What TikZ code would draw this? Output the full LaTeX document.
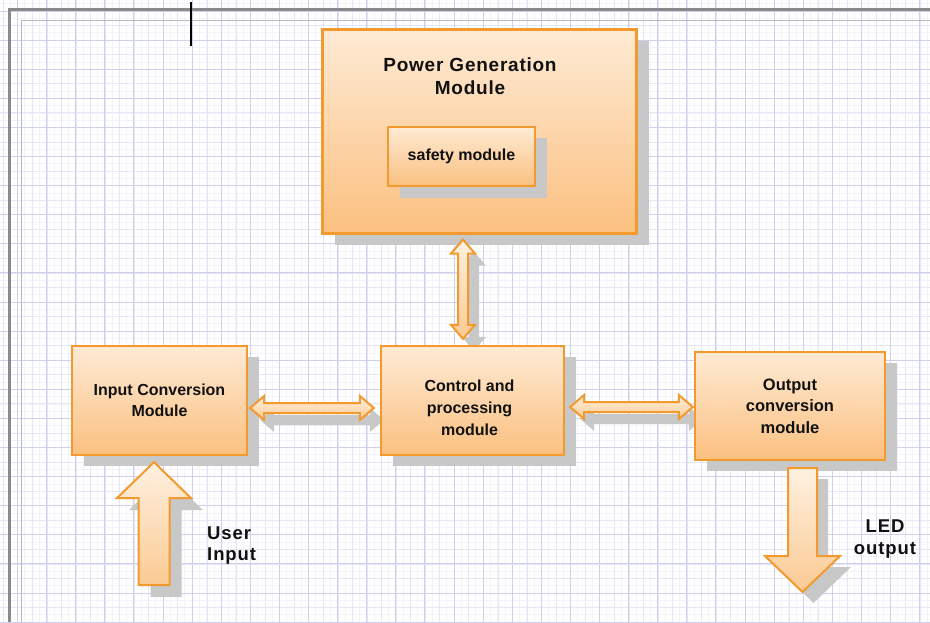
\documentclass[tikz,border=0pt]{standalone}
\usepackage{fontspec}
\setmainfont{Liberation Sans}
\usetikzlibrary{calc,shadows}
\definecolor{bord}{HTML}{F29A2E}
\definecolor{boxtop}{HTML}{FEEAD4}
\definecolor{boxbot}{HTML}{FBC080}
\definecolor{arrtop}{HTML}{FEF1E0}
\definecolor{arrbot}{HTML}{FBCA93}
\definecolor{shadowgray}{HTML}{C8C8C8}
\definecolor{gridmin}{HTML}{F3F3FB}
\definecolor{gridmid}{HTML}{E6E6F6}
\definecolor{gridmaj}{HTML}{CFCFEE}
\definecolor{framegray}{HTML}{8A8A8A}
\definecolor{txtcol}{HTML}{111111}
\pgfdeclarelayer{bg}
\pgfsetlayers{bg,main}

% horizontal double arrow: #1 left tip, #2 right tip, #3 style
\newcommand\hdarr[3]{\path[#3] let \p1=#1, \p2=#2 in
 (\x1,\y1) -- (\x1+14pt,\y1+12pt) -- (\x1+14pt,\y1+5pt) -- (\x2-14pt,\y1+5pt) -- (\x2-14pt,\y1+12pt) -- (\x2,\y1) -- (\x2-14pt,\y1-12pt) -- (\x2-14pt,\y1-5pt) -- (\x1+14pt,\y1-5pt) -- (\x1+14pt,\y1-12pt) -- cycle;}
% vertical double arrow: #1 top tip, #2 bottom tip
\newcommand\vdarr[3]{\path[#3] let \p1=#1, \p2=#2 in
 (\x1,\y1) -- (\x1+12pt,\y1-14pt) -- (\x1+5pt,\y1-14pt) -- (\x1+5pt,\y2+14pt) -- (\x1+12pt,\y2+14pt) -- (\x1,\y2) -- (\x1-12pt,\y2+14pt) -- (\x1-5pt,\y2+14pt) -- (\x1-5pt,\y1-14pt) -- (\x1-12pt,\y1-14pt) -- cycle;}
% block up arrow: #1 tip, #2 tail
\newcommand\uparr[3]{\path[#3] let \p1=#1, \p2=#2 in
 (\x1,\y1) -- (\x1+37pt,\y1-36pt) -- (\x1+15.5pt,\y1-36pt) -- (\x1+15.5pt,\y2) -- (\x1-15.5pt,\y2) -- (\x1-15.5pt,\y1-36pt) -- (\x1-37pt,\y1-36pt) -- cycle;}
% block down arrow: #1 tail, #2 tip
\newcommand\dnarr[3]{\path[#3] let \p1=#1, \p2=#2 in
 (\x1+14.5pt,\y1) -- (\x1+14.5pt,\y2+36pt) -- (\x1+37.5pt,\y2+36pt) -- (\x1,\y2) -- (\x1-37.5pt,\y2+36pt) -- (\x1-14.5pt,\y2+36pt) -- (\x1-14.5pt,\y1) -- cycle;}

\begin{document}
\begin{tikzpicture}[x=1pt,y=-1pt,
  box/.style={draw=bord, line width=2.2pt, top color=boxtop, bottom color=boxbot,
    drop shadow={shadow xshift=12pt, shadow yshift=-11pt, fill=shadowgray, opacity=1},
    align=center, text=txtcol, inner sep=0pt},
  boxfont/.style={font=\fontsize{16}{21}\selectfont\bfseries},
  lbl/.style={text=txtcol, inner sep=0pt, font=\fontsize{18.5}{21.5}\selectfont\bfseries\addfontfeature{LetterSpace=5}},
  arrst/.style={draw=bord, line width=2pt, top color=arrtop, bottom color=arrbot, line join=miter},
  arrshd/.style={fill=shadowgray}
]
\useasboundingbox (0,0) rectangle (930,622);

% background grid
\begin{pgfonlayer}{bg}
\fill[white] (0,0) rectangle (930,622);
\foreach \i in {0,...,128} {\draw[gridmin, line width=0.5pt] ({-4.425+7.275*\i},0) -- ({-4.425+7.275*\i},622);}
\foreach \i in {0,...,87} {\draw[gridmin, line width=0.5pt] (0,{-3.65+7.275*\i}) -- (930,{-3.65+7.275*\i});}
\foreach \i in {0,...,64} {\draw[gridmid, line width=0.6pt] ({3.15+14.55*\i},0) -- ({3.15+14.55*\i},622);}
\foreach \i in {0,...,43} {\draw[gridmid, line width=0.6pt] (0,{-3.65+14.55*\i}) -- (930,{-3.65+14.55*\i});}
\foreach \i in {0,...,32} {\draw[gridmaj, line width=0.7pt] ({17.4+29.1*\i},0) -- ({17.4+29.1*\i},622);}
\foreach \i in {0,...,21} {\draw[gridmaj, line width=0.7pt] (0,{10.9+29.1*\i}) -- (930,{10.9+29.1*\i});}
\draw[gray!55, line width=0.8pt] (21.5,622) -- (21.5,20.5) -- (930,20.5);
\draw[framegray, line width=3pt] (9.5,622) -- (9.5,9) -- (930,9);
\draw[black, line width=1.2pt] (191,2) -- (191,46);
\end{pgfonlayer}

% boxes
\node[box, minimum width=314pt, minimum height=204pt] (pow) at (479.5,131.5) {};
\node[lbl, align=center, font=\fontsize{19}{23}\selectfont\bfseries\addfontfeature{LetterSpace=4}] (powlbl) at (470,76.5) {Power Generation\\Module};
\node[box, boxfont, minimum width=147pt, minimum height=59pt, drop shadow={shadow xshift=12pt, shadow yshift=-12pt, fill=shadowgray, opacity=1}] (saf) at (461.5,156.5) {safety module};
\node[box, boxfont, minimum width=175pt, minimum height=109pt] (inp) at (159.5,400.5) {Input Conversion\\Module};
\node[box, minimum width=183pt, minimum height=109pt] (ctl) at (472.5,400.5) {};
\node[text=txtcol, inner sep=0pt, align=center, font=\fontsize{16}{22}\selectfont\bfseries] (ctllbl) at (469.5,408) {Control and\\processing\\module};
\node[box, minimum width=190pt, minimum height=108pt, font=\fontsize{16.5}{21.5}\selectfont\bfseries] (out) at (790,406) {Output\\conversion\\module};

\coordinate (uiend) at (154,585);
\coordinate (ledend) at (802.5,592);

% arrow shadows
\begin{pgfonlayer}{bg}
\hdarr{($(inp.east)+(12,19.5)$)}{($(ctl.west)+(4,19.5)$)}{arrshd}
\hdarr{($(ctl.east)+(15,18.5)$)}{($(out.west)+(9,13)$)}{arrshd}
\vdarr{($(pow.south)+(-5.5,17)$)}{($(ctl.north)+(1.5,6)$)}{arrshd}
\uparr{($(inp.south)+(6.5,18)$)}{($(uiend)+(12,12)$)}{arrshd}
\dnarr{($(out.south)+(23.5,18)$)}{($(ledend)+(11,11)$)}{arrshd}
\end{pgfonlayer}

% arrows
\hdarr{($(inp.east)+(2,7.5)$)}{($(ctl.west)+(-6,7.5)$)}{arrst}
\hdarr{($(ctl.east)+(5,6.5)$)}{($(out.west)+(-1,1)$)}{arrst}
\vdarr{($(pow.south)+(-16.5,5)$)}{($(ctl.north)+(-9.5,-6)$)}{arrst}
\uparr{($(inp.south)+(-5.5,6)$)}{(uiend)}{arrst}
\dnarr{($(out.south)+(12.5,7)$)}{(ledend)}{arrst}

% side labels
\node[lbl, align=left, anchor=west] (uilbl) at (207,545.5) {User\\Input};
\node[lbl, align=center] (ledlbl) at (885,539) {LED\\output};
\end{tikzpicture}
\end{document}
